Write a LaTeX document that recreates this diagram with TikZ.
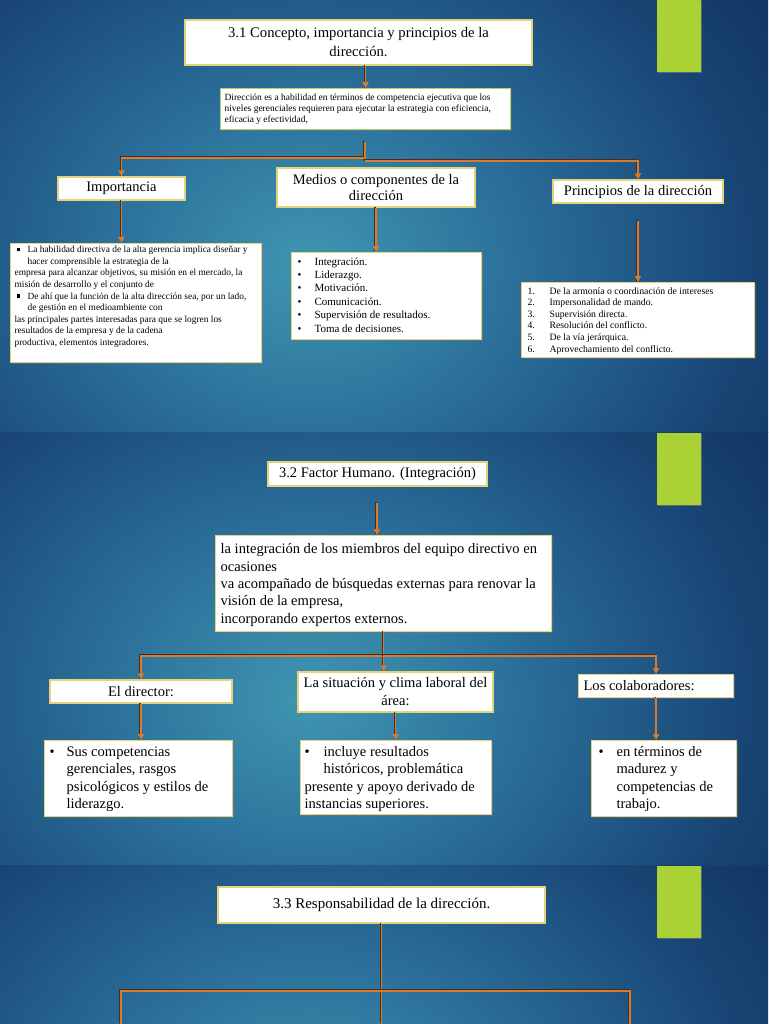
\documentclass[tikz,border=0pt]{standalone}
\usepackage{fontspec}
\setmainfont{Liberation Serif}
\usetikzlibrary{arrows.meta,shadows,calc}
\newlength\pxu \setlength\pxu{0.75pt}
\definecolor{bgA}{RGB}{64,150,176}
\definecolor{bgB}{RGB}{44,114,156}
\definecolor{bgC}{RGB}{24,68,116}
\definecolor{bgD}{RGB}{11,38,84}
\definecolor{orng}{RGB}{216,122,48}
\definecolor{connshadow}{RGB}{70,45,30}
\definecolor{boxc}{RGB}{228,210,125}
\definecolor{greenb}{RGB}{180,210,100}
\definecolor{barg}{RGB}{170,210,52}
\pgfdeclareradialshading{slidebg}{\pgfpointorigin}{color(0bp)=(bgA); color(7bp)=(bgB); color(16bp)=(bgC); color(25bp)=(bgD); color(50bp)=(bgD)}
% width, height, font, toppad, leftpad, content
\newcommand{\bxt}[6]{\begin{minipage}[c][#2\pxu][t]{#1\pxu}#3\raggedright\leftskip=#5\pxu\relax\vspace*{#4\pxu}\strut #6\end{minipage}}
\newcommand{\cn}[2][]{\draw[shadowline] #2;\draw[conn,#1] #2;}
\newcommand{\sqb}{\raisebox{1.3\pxu}{\rule{3.6\pxu}{3.6\pxu}}}
\tikzset{
 shadowline/.style={draw=connshadow, line width=1pt, transform canvas={shift={(-0.7pt,0.7pt)}}},
 conn/.style={draw=orng, line width=1.1pt},
 arrowend/.style={-{Triangle[length=4.5pt,width=4.5pt]}},
 box/.style={draw=boxc, line width=0.9pt, fill=white, inner sep=0pt, drop shadow={shadow xshift=0.9pt, shadow yshift=-0.9pt, opacity=0.35}},
 hd/.style={box, align=center, font=\fontsize{10.9pt}{13.5pt}\selectfont},
 gbar/.style={fill=barg, drop shadow={shadow xshift=0.6pt, shadow yshift=-1pt, opacity=0.6}},
}
\begin{document}
\begin{tikzpicture}[x=0.75pt,y=-0.75pt]
\useasboundingbox (0,0) rectangle (768,1024);
% ---------- backgrounds ----------
\foreach \yo/\ye in {0/432.5, 432.5/865, 865/1024} {
 \begin{scope}
 \clip (0,\yo) rectangle (768,\ye);
 \fill[bgD] (0,\yo) rectangle (768,\ye);
 \shade[shading=slidebg] (310,\yo+265) ellipse (520pt and 430pt);
 \end{scope}
}
% ---------- green bars ----------
\fill[gbar] (657,0) rectangle (701,72);
\fill[gbar] (657,433) rectangle (701,505);
\fill[gbar] (657,866) rectangle (701,938);

% ================= Slide 1 =================
\node[hd, minimum width=347\pxu, minimum height=45\pxu, font=\fontsize{11pt}{14.25pt}\selectfont] (t1) at (358.5,42.5) {3.1 Concepto, importancia y principios de la\\dirección.};
\node[box, draw=greenb, anchor=north west] (d1) at (220,88) {\bxt{290}{41}{\fontsize{7.1pt}{8.25pt}\selectfont}{4.3}{4}{Dirección es a habilidad en términos de competencia ejecutiva que los\\niveles gerenciales requieren para ejecutar la estrategia con eficiencia,\\eficacia y efectividad,}};
\node[hd, minimum width=127\pxu, minimum height=23\pxu] (imp) at (121.5,188.5) {Importancia};
\node[hd, minimum width=198\pxu, minimum height=39\pxu, font=\fontsize{10.9pt}{12pt}\selectfont] (med) at (376,187.5) {Medios o componentes de la\\dirección};
\node[hd, minimum width=170\pxu, minimum height=23\pxu] (pri) at (638,191.5) {Principios de la dirección};

\node[box, anchor=north west] (impt) at (10,243) {\bxt{251}{119}{\fontsize{7.05pt}{8.7pt}\selectfont}{0.9}{4}{\hspace*{2\pxu}\makebox[11\pxu][l]{\sqb}La habilidad directiva de la alta gerencia implica diseñar y\\
\hspace*{13\pxu}hacer comprensible la estrategia de la\\
empresa para alcanzar objetivos, su misión en el mercado, la\\
misión de desarrollo y el conjunto de\\
\hspace*{2\pxu}\makebox[11\pxu][l]{\sqb}De ahí que la función de la alta dirección sea, por un lado,\\
\hspace*{13\pxu}de gestión en el medioambiente con\\
las principales partes interesadas para que se logren los\\
resultados de la empresa y de la cadena\\
productiva, elementos integradores.}};

\node[box, anchor=north west] (medl) at (291,252) {\bxt{190}{87}{\fontsize{8.25pt}{10.05pt}\selectfont}{3.1}{6}{\makebox[17\pxu][l]{•}Integración.\\
\makebox[17\pxu][l]{•}Liderazgo.\\
\makebox[17\pxu][l]{•}Motivación.\\
\makebox[17\pxu][l]{•}Comunicación.\\
\makebox[17\pxu][l]{•}Supervisión de resultados.\\
\makebox[17\pxu][l]{•}Toma de decisiones.}};

\node[box, anchor=north west] (pril) at (521,282) {\bxt{233}{75}{\fontsize{7.3pt}{8.7pt}\selectfont}{3.4}{6}{\makebox[22\pxu][l]{1.}De la armonía o coordinación de intereses\\
\makebox[22\pxu][l]{2.}Impersonalidad de mando.\\
\makebox[22\pxu][l]{3.}Supervisión directa.\\
\makebox[22\pxu][l]{4.}Resolución del conflicto.\\
\makebox[22\pxu][l]{5.}De la vía jerárquica.\\
\makebox[22\pxu][l]{6.}Aprovechamiento del conflicto.}};

\coordinate (c1) at (365,142);
\coordinate (h1) at (365,158);
\coordinate (h2) at (365,161);
\coordinate (c2) at (638,221);
\cn[arrowend]{(t1.south -| d1.north) -- (d1.north)}
\cn{(c1) -- (h2)}
\cn[arrowend]{(h1) -| (imp.north)}
\cn[arrowend]{(h2) -| (pri.north)}
\cn[arrowend]{(imp.south) -- (imp.south |- impt.north)}
\cn[arrowend]{(med.south) -- (med.south |- medl.north)}
\cn[arrowend]{(c2) -- (c2 |- pril.north)}

% ================= Slide 2 =================
\node[hd, minimum width=219\pxu, minimum height=24\pxu] (t2) at (377.5,474) {3.2 Factor Humano. (Integración)};
\node[box, anchor=north west] (d2) at (215,535) {\bxt{336}{96}{\fontsize{10.9pt}{13.1pt}\selectfont}{5.7}{5}{la integración de los miembros del equipo directivo en\\
ocasiones\\
va acompañado de búsquedas externas para renovar la\\
visión de la empresa,\\
incorporando expertos externos.}};
\node[hd, minimum width=182\pxu, minimum height=23\pxu] (dir) at (141,691.5) {El director:};
\node[hd, minimum width=195\pxu, minimum height=40\pxu, font=\fontsize{10.9pt}{13.5pt}\selectfont] (sit) at (395.5,692) {La situación y clima laboral del\\área:};
\node[box, anchor=north west] (col) at (578,674) {\bxt{155}{23}{\fontsize{10.9pt}{13.1pt}\selectfont}{3.75}{5}{Los colaboradores:}};

\node[box, anchor=north west] (dirt) at (44,740) {\bxt{188}{76}{\fontsize{10.9pt}{13.1pt}\selectfont}{3.25}{5}{\makebox[17\pxu][l]{•}Sus competencias\\
\hspace*{17\pxu}gerenciales, rasgos\\
\hspace*{17\pxu}psicológicos y estilos de\\
\hspace*{17\pxu}liderazgo.}};
\node[box, anchor=north west] (sitt) at (300,740) {\bxt{191}{74}{\fontsize{10.9pt}{13.1pt}\selectfont}{3.25}{4}{\makebox[19\pxu][l]{•}incluye resultados\\
\hspace*{19\pxu}históricos, problemática\\
presente y apoyo derivado de\\
instancias superiores.}};
\node[box, anchor=north west] (colt) at (591,740) {\bxt{145}{76}{\fontsize{10.9pt}{13.1pt}\selectfont}{3.25}{7}{\makebox[18\pxu][l]{•}en términos de\\
\hspace*{18\pxu}madurez y\\
\hspace*{18\pxu}competencias de\\
\hspace*{18\pxu}trabajo.}};

\coordinate (c3) at (377,503);
\coordinate (h3) at (383,656);
\cn[arrowend]{(c3) -- (c3 |- d2.north)}
\cn[arrowend]{(d2.south) -- (d2.south |- sit.north)}
\cn[arrowend]{(h3) -| (dir.north)}
\cn[arrowend]{(h3) -| (col.north)}
\cn[arrowend]{(dir.south) -- (dir.south |- dirt.north)}
\cn[arrowend]{(sit.south) -- (sit.south |- sitt.north)}
\cn[arrowend]{(col.south) -- (col.south |- colt.north)}

% ================= Slide 3 =================
\node[hd, minimum width=327\pxu, minimum height=36\pxu, font=\fontsize{11.25pt}{13.5pt}\selectfont] (t3) at (381.5,905) {3.3 Responsabilidad de la dirección.};
\coordinate (bot) at (381,1024);
\coordinate (hm) at (381,991);
\coordinate (bl) at (121,1024);
\coordinate (br) at (630,1024);
\cn{(t3.south) -- (t3.south |- bot)}
\cn{(bl) |- (hm) -| (br)}
\end{tikzpicture}
\end{document}
